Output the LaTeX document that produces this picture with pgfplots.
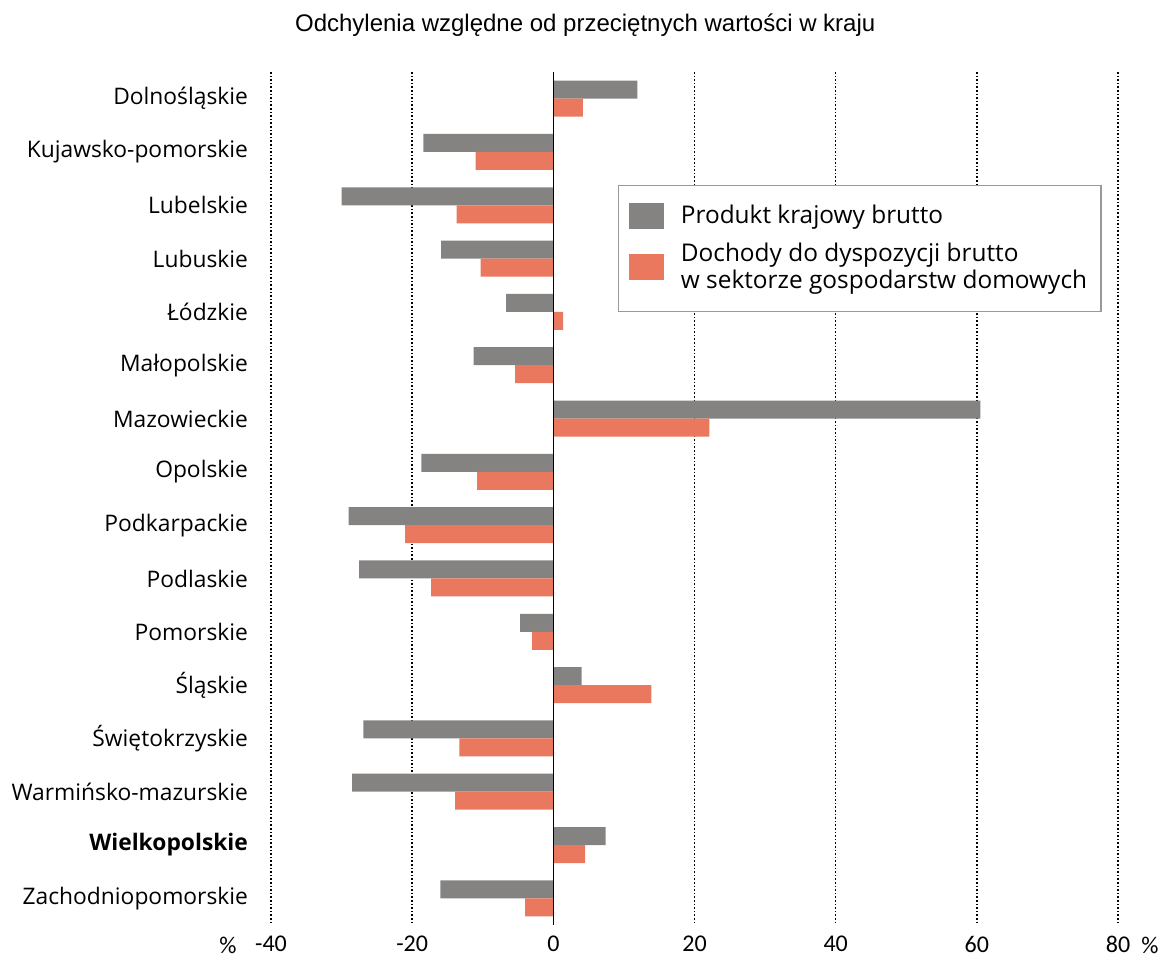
\documentclass[border=0pt]{standalone}
\usepackage{fontspec}
\setmainfont{Open Sans}
\newfontfamily\tickfont{Carlito}
\newfontfamily\titlefont{Liberation Sans}
\usepackage{pgfplots}
\pgfplotsset{compat=1.18}
\usetikzlibrary{calc}
\definecolor{pkbgray}{HTML}{858382}
\definecolor{ddorange}{HTML}{E9785E}

\pgfplotsset{
  boxlegend/.style={legend image code/.code={\fill[##1] (0pt,-6.5pt) rectangle (17.5pt,6.5pt); \path (24pt,0pt);}}
}

\begin{document}
\begin{tikzpicture}
\begin{axis}[
  scale only axis,
  width=423.5pt, height=426.5pt,
  clip=false,
  xbar, bar width=9pt,
  xmin=-40, xmax=80, ymin=-0.5, ymax=15.5,
  y dir=reverse,
  xtick={-40,-20,0,20,40,60,80},
  xticklabels={-40,-20,0,20,40,60,80},
  xticklabel style={font=\tickfont\fontsize{12}{14}\selectfont, yshift=-2pt},
  ytick={0,...,15},
  yticklabels={Dolnośląskie, Kujawsko-pomorskie, Lubelskie, Lubuskie, Łódzkie, Małopolskie, Mazowieckie, Opolskie, Podkarpackie, Podlaskie, Pomorskie, Śląskie, Świętokrzyskie, Warmińsko-mazurskie, \textbf{Wielkopolskie}, Zachodniopomorskie},
  yticklabel style={font=\fontsize{11.4}{13}\selectfont, xshift=-8pt},
  axis line style={draw=none},
  major tick length=0pt,
  legend style={at={(rel axis cs:0.41,0.868)}, anchor=north west, draw=gray!80, line width=0.6pt,
    font=\fontsize{12.2}{13.5}\selectfont, cells={align=left, anchor=west},
    inner xsep=5pt, inner ysep=8pt, row sep=4pt},
  legend cell align=left,
  boxlegend,
]
\draw[densely dotted, black, line width=0.8pt] \foreach \g in {-40,-20,20,40,60,80} {(axis cs:\g,-0.5) -- (axis cs:\g,15.5)};
\addplot[fill=pkbgray, draw=none, bar shift=4.5pt] coordinates {
  (11.9,0) (-18.4,1) (-30.0,2) (-15.9,3) (-6.7,4) (-11.3,5) (60.5,6) (-18.7,7)
  (-29.0,8) (-27.5,9) (-4.7,10) (4.0,11) (-26.9,12) (-28.5,13) (7.4,14) (-16.0,15)
};
\addlegendentry{Produkt krajowy brutto}
\addplot[fill=ddorange, draw=none, bar shift=-4.5pt] coordinates {
  (4.2,0) (-11.0,1) (-13.7,2) (-10.3,3) (1.4,4) (-5.4,5) (22.1,6) (-10.8,7)
  (-21.0,8) (-17.3,9) (-3.0,10) (13.9,11) (-13.3,12) (-13.9,13) (4.5,14) (-4.0,15)
};
\addlegendentry{Dochody do dyspozycji brutto\\w sektorze gospodarstw domowych}
\draw[black, line width=0.8pt] (axis cs:0,-0.5) -- (axis cs:0,15.5);
\coordinate (bl) at (rel axis cs:0,0);
\coordinate (tr) at (rel axis cs:1,1);
\node[font=\titlefont\fontsize{12}{14}\selectfont, yshift=23.5pt] at (rel axis cs:0.371,1) {Odchylenia względne od przeciętnych wartości w kraju};
\node[font=\tickfont\fontsize{12}{14}\selectfont, xshift=-21.5pt, yshift=-10pt] at (rel axis cs:0,0) {\%};
\node[font=\tickfont\fontsize{12}{14}\selectfont, xshift=16pt, yshift=-10pt] at (rel axis cs:1,0) {\%};
\end{axis}
\pgfresetboundingbox
\useasboundingbox ($(bl)+(-135.5pt,-16.5pt)$) rectangle ($(tr)+(23pt,36pt)$);
\end{tikzpicture}
\end{document}
